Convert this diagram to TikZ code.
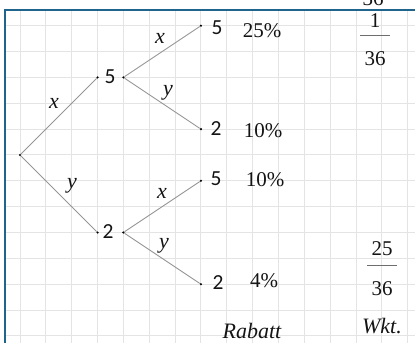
\documentclass[tikz,border=0pt]{standalone}
\usepackage{fontspec}
\setmainfont{Liberation Serif}
\newfontfamily\sansf{Carlito}
\definecolor{framec}{RGB}{30,100,140}
\definecolor{gridc}{RGB}{228,228,228}
\definecolor{edgec}{RGB}{150,150,150}
\definecolor{barc}{RGB}{110,110,110}
\definecolor{txtc}{RGB}{20,20,20}
\tikzset{
  gridline/.style={draw=gridc, line width=1pt},
  framel/.style={draw=framec, line width=2.3pt},
  edge/.style={draw=edgec, line width=0.9pt},
  dot/.style={circle, fill=black, inner sep=0pt, minimum size=2.4pt},
  numlab/.style={inner sep=0pt, anchor=base, text=txtc, font=\sansf\fontsize{21.5}{25}\selectfont},
  serlab/.style={inner sep=0pt, anchor=base, text=txtc, font=\fontsize{21}{25}\selectfont},
  varlab/.style={inner sep=0pt, anchor=base, text=txtc, font=\fontsize{22}{26}\selectfont\itshape},
  fracbar/.style={draw=barc, line width=1pt},
}
\begin{document}
\begin{tikzpicture}[x=1pt,y=-1pt]
\useasboundingbox (0,0) rectangle (415,343);
% grid
\foreach \i in {0,...,15} \draw[gridline] ({20+25.85*\i},10) -- ({20+25.85*\i},343);
\foreach \j in {0,...,12} \draw[gridline] (6,{25.7+25.85*\j}) -- (415,{25.7+25.85*\j});
% frame
\draw[framel] (5,343) -- (5,10) -- (415,10);
% cut-off number above frame
\node[serlab] (cut) at (373,5) {36};
% tree points
\node[dot] (r) at (20,155) {};
\node[dot] (a1) at (97.55,77.4) {};
\node[dot] (a2) at (123.4,77.4) {};
\node[dot] (b1) at (97.55,232.5) {};
\node[dot] (b2) at (123.4,232.5) {};
\node[dot] (l1) at (200.95,25.7) {};
\node[dot] (l2) at (200.95,129.1) {};
\node[dot] (l3) at (200.95,180.8) {};
\node[dot] (l4) at (200.95,284.2) {};
% edges
\draw[edge] (r) -- (a1);
\draw[edge] (r) -- (b1);
\draw[edge] (a2) -- (l1);
\draw[edge] (a2) -- (l2);
\draw[edge] (b2) -- (l3);
\draw[edge] (b2) -- (l4);
% edge labels
\node[varlab] (ex1) at (54,108) {x};
\node[varlab] (ey1) at (72,188) {y};
\node[varlab] (ex2) at (160,43) {x};
\node[varlab] (ey2) at (168,95) {y};
\node[varlab] (ex3) at (162,198) {x};
\node[varlab] (ey3) at (164,248) {y};
% node values
\node[numlab] (va) at (110,83) {5};
\node[numlab] (vb) at (108,238) {2};
\node[numlab] (v1) at (217,34) {5};
\node[numlab] (v2) at (216,135) {2};
\node[numlab] (v3) at (216,185) {5};
\node[numlab] (v4) at (218,289) {2};
% discounts
\node[serlab] (p1) at (262,37) {25\%};
\node[serlab] (p2) at (263,137) {10\%};
\node[serlab] (p3) at (265,186) {10\%};
\node[serlab] (p4) at (264,287) {4\%};
% fractions
\node[serlab] (f1n) at (375,27) {1};
\coordinate (f1a) at (360,35);
\coordinate (f1b) at (390,35);
\draw[fracbar] (f1a) -- (f1b);
\node[serlab] (f1d) at (375,65) {36};
\node[serlab] (f2n) at (382,255) {25};
\coordinate (f2a) at (367,265);
\coordinate (f2b) at (397,265);
\draw[fracbar] (f2a) -- (f2b);
\node[serlab] (f2d) at (382,295) {36};
% headers
\node[varlab] (rab) at (252,338) {Rabatt};
\node[varlab] (wkt) at (382,333) {Wkt.};
\end{tikzpicture}
\end{document}
